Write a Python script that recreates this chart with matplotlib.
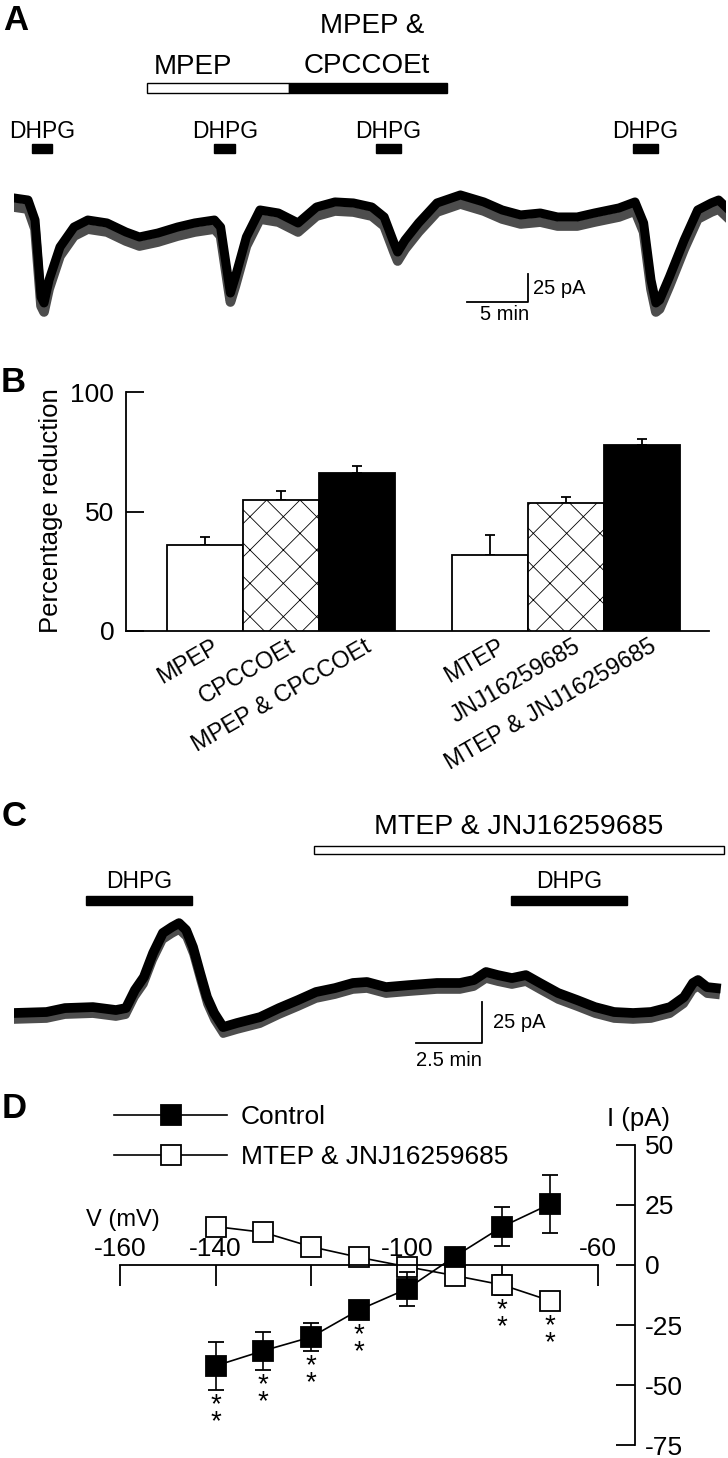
import numpy as np
import matplotlib
matplotlib.use("Agg")
import matplotlib.pyplot as plt
from matplotlib.patches import Rectangle
from matplotlib.lines import Line2D
from matplotlib.transforms import blended_transform_factory, ScaledTranslation

plt.rcParams['font.family'] = ['Liberation Sans', 'DejaVu Sans']
plt.rcParams['hatch.linewidth'] = 0.6
plt.rcParams['axes.unicode_minus'] = False

# ---- panel A: holding current trace (min, pA) ----
t_a = [0, 1.14, 1.71, 2.2, 2.44, 2.85, 3.74, 4.88, 6.0, 7.56,
       9.1, 10.2, 11.7, 13.3, 14.7, 16.3, 16.8, 17.4, 17.6, 18.0,
       18.9, 20.0, 21.5, 23.1, 24.6, 26.1, 27.6, 29.1, 30.1, 30.9,
       31.2, 31.8, 32.9, 34.4, 36.3, 38.2, 39.7, 41.2, 42.8, 44.2,
       45.8, 47.2, 49.2, 50.5, 51.2, 51.8, 52.2, 52.5, 53.3, 54.5,
       55.6, 56.7, 57.3, 57.9]
i_a = [0, -1.8, -19.5, -87.6, -92.9, -72.6, -43.4, -25.7, -19.5, -22.1,
       -30.1, -34.5, -31.0, -25.7, -22.1, -19.5, -25.7, -69.9, -84.1, -69.9,
       -34.5, -10.6, -13.3, -22.1, -8.0, -3.5, -4.4, -8.0, -16.8, -39.8,
       -47.8, -37.2, -22.1, -4.4, 2.7, -3.5, -10.6, -15.0, -13.3, -16.8,
       -16.8, -13.3, -8.8, -3.5, -22.1, -72.6, -92.9, -90.3, -69.9, -37.2,
       -10.6, -4.4, -1.8, -8.0]
dhpg_a = [(1.43, 3.09), (16.3, 18.0), (29.4, 31.5), (50.3, 52.4)]
mpep_a = (10.8, 22.4)
mpep_cpcc_a = (22.4, 35.2)

# ---- panel B: percentage reduction ----
b_labels = ["MPEP", "CPCCOEt", "MPEP & CPCCOEt",
            "MTEP", "JNJ16259685", "MTEP & JNJ16259685"]
b_vals = [36, 55, 66, 32, 53.5, 78]
b_errs = [3.5, 3.5, 3, 8, 2.5, 2.5]

# ---- panel C: trace (min, pA) ----
t_c = [0, 1.23, 1.93, 2.99, 3.86, 4.24, 4.58, 4.92, 5.27, 5.64,
       5.98, 6.25, 6.52, 6.78, 7.05, 7.31, 7.58, 7.92, 8.45, 9.32,
       10.04, 10.76, 11.44, 12.16, 12.84, 13.37, 14.09, 14.96, 16.02, 16.89,
       17.42, 17.88, 18.33, 18.86, 19.39, 19.92, 20.61, 21.33, 22.01, 22.73,
       23.45, 24.13, 24.85, 25.38, 25.72, 25.91, 26.25, 26.59]
i_c = [-1.8, -1.2, 1.2, 1.8, 0, 1.2, 12.2, 20.1, 34.8, 47.0,
       50.6, 53.0, 48.8, 38.4, 22.6, 7.9, -1.8, -10.4, -7.9, -4.3,
       1.2, 6.1, 11.0, 13.4, 16.5, 17.1, 14.0, 15.2, 16.5, 16.5,
       18.3, 23.2, 21.3, 19.5, 21.3, 16.5, 10.4, 6.1, 1.8, -1.2,
       -1.8, -1.2, 1.8, 7.9, 16.5, 18.3, 14.0, 13.4]
dhpg_c = [(2.73, 6.74), (18.83, 23.22)]
mtep_jnj_c = (11.36, 26.9)

# ---- panel D: I-V ----
volts = [-140, -130, -120, -110, -100, -90, -80, -70]
ctrl = [-42, -35.7, -30, -18.7, -10, 3.5, 16, 25.4]
ctrl_err = [10, 8, 6, 3, 7, 3, 8, 12]
mtep = [16, 13.6, 7.6, 3.2, -0.7, -4.4, -8.3, -14.9]
mtep_err = [2, 2, 2, 2, 2, 2, 4, 2]
sig_ctrl = [-140, -130, -120, -110]
sig_mtep = [-80, -70]

W, H = 728, 1458
fig = plt.figure(figsize=(W / 100, H / 100), dpi=100)


def px_axes(x0, y0, x1, y1):
    return fig.add_axes([x0 / W, 1 - y1 / H, (x1 - x0) / W, (y1 - y0) / H])


def ftext(x, y, s, **kw):
    kw.setdefault('ha', 'center')
    kw.setdefault('va', 'center')
    fig.text(x / W, 1 - y / H, s, **kw)


def time_bar(ax, t0, t1, y0, y1, face):
    tr = blended_transform_factory(ax.transData, fig.transFigure)
    ax.add_patch(Rectangle((t0, 1 - y1 / H), t1 - t0, (y1 - y0) / H, transform=tr,
                           facecolor=face, edgecolor='k', lw=1, clip_on=False))


def time_label(ax, t, y, s, size):
    tr = blended_transform_factory(ax.transData, fig.transFigure)
    ax.text(t, 1 - y / H, s, transform=tr, ha='center', va='center', fontsize=size)


def noisy_trace(ax, t, i, core, fringe, drop):
    # dense noise band: dark core plus a lighter fringe of downward spikes
    down = ax.transData + ScaledTranslation(0, -drop / 100, fig.dpi_scale_trans)
    ax.plot(t, i, color='0.3', lw=fringe, transform=down, solid_joinstyle='round')
    ax.plot(t, i, color='k', lw=core, solid_joinstyle='round')


# panel letters
for letter, (x, y) in zip("ABCD", [(16, 20), (13, 382), (14, 817), (14, 1109)]):
    ftext(x, y, letter, fontsize=25, fontweight='bold')

# ================= A =================
axA = px_axes(14, 170, 726, 340)
noisy_trace(axA, t_a, i_a, 6.5, 7, 9)
axA.set_xlim(0, 57.9)
axA.set_ylim(-125.7, 24.8)
axA.axis('off')
time_bar(axA, *mpep_a, 83, 93, 'white')
time_bar(axA, *mpep_cpcc_a, 83, 93, 'black')
for t0, t1 in dhpg_a:
    time_bar(axA, t0, t1, 144, 153, 'black')
    time_label(axA, (t0 + t1) / 2, 131, "DHPG", 16.5)
ftext(193, 67, "MPEP", fontsize=20)
ftext(372, 26, "MPEP &", fontsize=20)
ftext(367, 66, "CPCCOEt", fontsize=20)
axA.plot([36.8, 41.8, 41.8], [-92, -92, -67], color='k', lw=1.3, clip_on=False)
ftext(533, 288, "25 pA", ha='left', fontsize=14.5)
ftext(505, 315, "5 min", fontsize=14.5)

# ================= B =================
axB = px_axes(126, 392, 709, 631)
pos = [0, 1, 2, 3.76, 4.76, 5.76]
faces = ['white', 'white', 'black', 'white', 'white', 'black']
hatches = ['', 'x', '', '', 'x', '']
bars = axB.bar(pos, b_vals, width=1, color=faces, edgecolor='k', lw=1.3, zorder=3)
for b, h in zip(bars, hatches):
    b.set_hatch(h)
axB.errorbar(pos, b_vals, yerr=[np.zeros(len(b_vals)), b_errs], fmt='none',
             ecolor='k', elinewidth=1.3, capsize=3.6, capthick=1.3, zorder=2)
axB.set_xlim(-1.04, 6.64)
axB.set_ylim(0, 100)
axB.set_yticks([0, 50, 100])
axB.tick_params(axis='y', direction='in', length=13, width=1.3, pad=8.5, labelsize=19)
axB.set_xticks([])
for s in ['top', 'right']:
    axB.spines[s].set_visible(False)
for s in ['left', 'bottom']:
    axB.spines[s].set_linewidth(1.3)
off = ScaledTranslation(5 / 72, -3.5 / 72, fig.dpi_scale_trans)
for p, lab in zip(pos, b_labels):
    axB.text(p, 0, lab, transform=axB.get_xaxis_transform() + off, rotation=30,
             rotation_mode='anchor', ha='right', va='top', fontsize=17)
ftext(51, 511, "Percentage reduction", rotation=90, fontsize=18.5)

# ================= C =================
axC = px_axes(14, 900, 726, 1075)
noisy_trace(axC, t_c, i_c, 7, 5.5, 7)
axC.set_xlim(0, 26.97)
axC.set_ylim(-39.6, 67.1)
axC.axis('off')
time_bar(axC, *mtep_jnj_c, 846, 854, 'white')
ftext(519, 827, "MTEP & JNJ16259685", fontsize=20.5)
for t0, t1 in dhpg_c:
    time_bar(axC, t0, t1, 896, 905, 'black')
    time_label(axC, (t0 + t1) / 2, 882, "DHPG", 16.5)
axC.plot([15.23, 17.73, 17.73], [-20.1, -20.1, 4.9], color='k', lw=1.3, clip_on=False)
ftext(493, 1023, "25 pA", ha='left', fontsize=14.5)
ftext(449, 1061, "2.5 min", fontsize=14.5)

# ================= D =================
axD = px_axes(100, 1077, 700, 1453)
axD.errorbar(volts, mtep, yerr=mtep_err, fmt='s-', color='k', mfc='white', mec='k',
             ms=14.5, mew=1.3, lw=1.2, capsize=5.8, elinewidth=1.2, zorder=2)
axD.errorbar(volts, ctrl, yerr=ctrl_err, fmt='s-', color='k', mfc='k', mec='k',
             ms=14.5, mew=1.3, lw=1.2, capsize=5.8, elinewidth=1.2, zorder=3)
axD.set_xlim(-164.18, -38.66)
axD.set_ylim(-78.3, 78.3)

for v in sig_ctrl:
    k = volts.index(v)
    low = min(ctrl[k] - ctrl_err[k], ctrl[k] - 4.2)
    axD.annotate("*\n*", xy=(v, low), xytext=(0, -1.5), textcoords='offset points',
                 ha='center', va='top', fontsize=20, linespacing=0.55)
for v in sig_mtep:
    k = volts.index(v)
    low = min(mtep[k] - mtep_err[k], mtep[k] - 4.2)
    axD.annotate("*\n*", xy=(v, low), xytext=(0, -1.5), textcoords='offset points',
                 ha='center', va='top', fontsize=20, linespacing=0.55)

axD.spines['left'].set_visible(False)
axD.spines['bottom'].set_visible(False)
axD.spines['top'].set_position(('data', 0))
axD.spines['top'].set_bounds(-160, -60)
axD.spines['right'].set_position(('data', -52.3))
axD.spines['right'].set_bounds(-75, 50)
for s in ['top', 'right']:
    axD.spines[s].set_linewidth(1.3)
axD.xaxis.set_ticks_position('top')
axD.set_xticks([-160, -140, -120, -100, -80, -60],
               ['-160', '-140', '', '-100', '', '-60'])
axD.tick_params(axis='x', direction='in', length=15, width=1.3, pad=3, labelsize=19)
axD.yaxis.set_ticks_position('right')
axD.set_yticks([-75, -50, -25, 0, 25, 50], ['-75', '-50', '-25', '0', '25', '50'])
axD.tick_params(axis='y', direction='in', length=14, width=1.3, pad=7, labelsize=19)
axD.text(-51.6, 60.8, "I (pA)", ha='center', va='center', fontsize=18.5)
axD.text(-159.4, 18.75, "V (mV)", ha='center', va='center', fontsize=17)

handles = [Line2D([], [], color='k', lw=1.2, marker='s', ms=14.5, mfc='k', mec='k', mew=1.3),
           Line2D([], [], color='k', lw=1.2, marker='s', ms=14.5, mfc='white', mec='k', mew=1.3)]
axD.legend(handles, ["Control", "MTEP & JNJ16259685"], loc='upper left',
           bbox_to_anchor=(114 / W, 1 - 1105 / H), bbox_transform=fig.transFigure,
           frameon=False, borderpad=0, borderaxespad=0, handlelength=4.3,
           handletextpad=0.5, labelspacing=0.6, fontsize=19)

fig.savefig("out.png", dpi=100)
